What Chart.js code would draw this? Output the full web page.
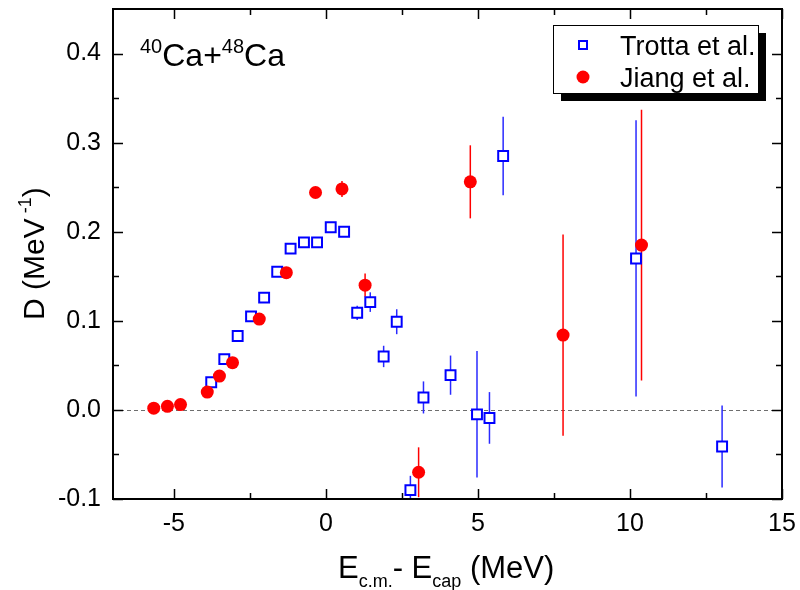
<!DOCTYPE html>
<html>
<head>
<meta charset="utf-8">
<script src="https://cdn.jsdelivr.net/npm/chart.js@4.4.1/dist/chart.umd.min.js"></script>
<style>
    body { margin: 0; background: #fff; }
    #wrap { width: 800px; height: 590px; position: relative; }
</style>
</head>
<body>
<div id="wrap"><canvas id="chart"></canvas></div>
<script>
    //------------------------------------------Datos------------------------------------------------------------------

    // Trotta et al. (cuadrados azules)
    const trottaX = [-3.77, -3.34, -2.90, -2.46, -2.03, -1.60, -1.16, -0.72, -0.29, 0.16, 0.60, 1.03,
        1.46, 1.90, 2.33, 2.78, 3.21, 4.10, 4.97, 5.38, 5.83, 10.20, 13.03];
    const trottaY = [0.031, 0.057, 0.083, 0.105, 0.126, 0.155, 0.181, 0.188, 0.188, 0.205, 0.200, 0.109,
        0.121, 0.060, 0.099, -0.090, 0.014, 0.039, -0.005, -0.009, 0.285, 0.170, -0.041];
    const trottaErr = [0.004, 0.004, 0.005, 0.005, 0.005, 0.005, 0.006, 0.006, 0.006, 0.005, 0.005, 0.008,
        0.011, 0.012, 0.014, 0.016, 0.018, 0.022, 0.071, 0.029, 0.044, 0.155, 0.046];

    // Jiang et al. (circulos rojos)
    const jiangX = [-5.66, -5.21, -4.78, -3.90, -3.50, -3.07, -2.19, -1.30, -0.34, 0.53, 1.29, 3.05, 4.75, 7.80, 10.38];
    const jiangY = [0.002, 0.004, 0.006, 0.020, 0.038, 0.053, 0.102, 0.154, 0.244, 0.248, 0.140, -0.070, 0.256, 0.084, 0.185];
    const jiangErr = [0, 0, 0, 0, 0, 0, 0, 0, 0, 0.009, 0.013, 0.028, 0.041, 0.113, 0.152];

    const xMin = -7, xMax = 15, xStep = 5;
    const yMin = -0.1, yMax = 0.45, yStep = 0.1;

    const seriesNames = ["Trotta et al.", "Jiang et al."];

    const FONT = "'Liberation Sans', Arial, sans-serif";

    //------------------------------------------Funciones------------------------------------------------------------------

    function toPoints(xs, ys) {
        return xs.map(function (x, i) { return { x: x, y: ys[i] }; });
    }

    // escribe un texto con partes sub/superindice, devuelve la x final
    function richText(ctx, parts, x, y) {
        parts.forEach(function (p) {
            ctx.font = p.s + "px " + FONT;
            ctx.fillText(p.t, x, y + p.dy);
            x += ctx.measureText(p.t).width;
        });
        return x;
    }

    // barras de error verticales + linea discontinua en y = 0
    const errorBars = {
        id: "errorBars",
        beforeDatasetsDraw(chart) {
            const ctx = chart.ctx;
            const area = chart.chartArea;
            const xs = chart.scales.x, ys = chart.scales.y;
            ctx.save();
            ctx.beginPath();
            ctx.rect(area.left, area.top, area.right - area.left, area.bottom - area.top);
            ctx.clip();

            // linea en cero
            const y0 = Math.round(ys.getPixelForValue(0)) + 0.5;
            ctx.strokeStyle = "#6e6e6e";
            ctx.lineWidth = 1;
            ctx.setLineDash([4, 3]);
            ctx.beginPath();
            ctx.moveTo(area.left, y0);
            ctx.lineTo(area.right, y0);
            ctx.stroke();
            ctx.setLineDash([]);

            chart.data.datasets.forEach(function (ds) {
                ctx.strokeStyle = ds.barColor;
                ctx.lineWidth = 1.5;
                ds.data.forEach(function (p, i) {
                    const e = ds.errors[i];
                    if (!e) return;
                    const px = xs.getPixelForValue(p.x);
                    ctx.beginPath();
                    ctx.moveTo(px, ys.getPixelForValue(p.y + e));
                    ctx.lineTo(px, ys.getPixelForValue(p.y - e));
                    ctx.stroke();
                });
            });
            ctx.restore();
        }
    };

    // marco con marcas hacia dentro
    const frame = {
        id: "frame",
        afterDatasetsDraw(chart) {
            const ctx = chart.ctx;
            const a = chart.chartArea;
            const xs = chart.scales.x, ys = chart.scales.y;
            ctx.save();
            ctx.strokeStyle = "#000";
            ctx.lineWidth = 2;
            ctx.strokeRect(a.left, a.top, a.right - a.left, a.bottom - a.top);

            ctx.lineWidth = 1.5;
            ctx.beginPath();
            for (let k = -2; k <= 6; k++) {
                const v = k * 2.5;
                const px = Math.round(xs.getPixelForValue(v)) + 0.5;
                const len = (k % 2 === 0) ? 10 : 6;
                ctx.moveTo(px, a.bottom); ctx.lineTo(px, a.bottom - len);
                ctx.moveTo(px, a.top); ctx.lineTo(px, a.top + len);
            }
            for (let k = -2; k <= 8; k++) {
                const v = k * 0.05;
                const py = Math.round(ys.getPixelForValue(v)) + 0.5;
                const len = (k % 2 === 0) ? 10 : 6;
                ctx.moveTo(a.left, py); ctx.lineTo(a.left + len, py);
                ctx.moveTo(a.right, py); ctx.lineTo(a.right - len, py);
            }
            ctx.stroke();
            ctx.restore();
        }
    };

    // titulos de ejes, etiqueta y leyenda
    const labels = {
        id: "labels",
        afterDraw(chart) {
            const ctx = chart.ctx;
            ctx.save();
            ctx.fillStyle = "#000";
            ctx.textBaseline = "alphabetic";

            // titulo eje x
            richText(ctx, [
                { t: "E", s: 31, dy: 0 },
                { t: "c.m.", s: 18, dy: 9 },
                { t: "- E", s: 31, dy: 0 },
                { t: "cap", s: 18, dy: 9 },
                { t: " (MeV)", s: 31, dy: 0 }
            ], 338, 578);

            // titulo eje y
            ctx.save();
            ctx.translate(44, 320);
            ctx.rotate(-Math.PI / 2);
            richText(ctx, [
                { t: "D (MeV", s: 30, dy: 0 },
                { t: " -1", s: 18, dy: -13 },
                { t: ")", s: 30, dy: 0 }
            ], 0, 0);
            ctx.restore();

            // reaccion
            richText(ctx, [
                { t: "40", s: 20, dy: -13 },
                { t: "Ca+", s: 32, dy: 0 },
                { t: "48", s: 20, dy: -13 },
                { t: "Ca", s: 32, dy: 0 }
            ], 140, 66);

            // leyenda con sombra
            const lx = 553, ly = 25, lw = 205, lh = 68;
            ctx.fillStyle = "#000";
            ctx.fillRect(lx + 8, ly + 8, lw, lh);
            ctx.fillStyle = "#fff";
            ctx.fillRect(lx, ly, lw, lh);
            ctx.strokeStyle = "#000";
            ctx.lineWidth = 1;
            ctx.strokeRect(lx + 0.5, ly + 0.5, lw, lh);

            ctx.strokeStyle = "#0000ff";
            ctx.lineWidth = 2;
            ctx.strokeRect(579, 41, 8, 8);
            ctx.fillStyle = "#ff0000";
            ctx.beginPath();
            ctx.arc(583, 77, 6.5, 0, Math.PI * 2);
            ctx.fill();

            ctx.fillStyle = "#000";
            ctx.font = "27px " + FONT;
            ctx.fillText(seriesNames[0], 620, 55);
            ctx.fillText(seriesNames[1], 620, 87);
            ctx.restore();
        }
    };

    const ctx = document.getElementById("chart").getContext("2d");

    const myChart = new Chart(ctx, {
        type: "scatter",
        data: {
            datasets: [
                {
                    label: seriesNames[0],
                    data: toPoints(trottaX, trottaY),
                    errors: trottaErr,
                    barColor: "#2a2aff",
                    pointStyle: "rect",
                    pointRadius: 7,
                    pointBorderWidth: 2,
                    borderColor: "#0000ff",
                    backgroundColor: "#ffffff",
                    order: 1
                },
                {
                    label: seriesNames[1],
                    data: toPoints(jiangX, jiangY),
                    errors: jiangErr,
                    barColor: "#ff0000",
                    pointStyle: "circle",
                    pointRadius: 6.5,
                    pointBorderWidth: 0,
                    borderColor: "#ff0000",
                    backgroundColor: "#ff0000",
                    order: 0
                }
            ]
        },
        options: {
            responsive: true,
            maintainAspectRatio: false,
            animation: false,
            layout: { padding: { top: 9, right: 18, left: 0, bottom: 0 } },
            plugins: {
                legend: { display: false },
                tooltip: { enabled: false }
            },
            scales: {
                x: {
                    type: "linear",
                    min: xMin,
                    max: xMax,
                    grid: { display: false, drawTicks: false },
                    border: { display: false },
                    ticks: {
                        stepSize: xStep,
                        includeBounds: false,
                        color: "#000",
                        padding: 10,
                        maxRotation: 0,
                        font: { family: FONT, size: 25 }
                    },
                    afterFit: function (scale) {
                        scale.height = 91;
                        scale.paddingLeft = 0;
                        scale.paddingRight = 0;
                    }
                },
                y: {
                    type: "linear",
                    min: yMin,
                    max: yMax,
                    grid: { display: false, drawTicks: false },
                    border: { display: false },
                    ticks: {
                        stepSize: yStep,
                        includeBounds: false,
                        color: "#000",
                        padding: 12,
                        font: { family: FONT, size: 25 },
                        callback: function (v) { return v.toFixed(1); }
                    },
                    afterFit: function (scale) {
                        scale.width = 113;
                        scale.paddingTop = 0;
                        scale.paddingBottom = 0;
                    }
                }
            }
        },
        plugins: [errorBars, frame, labels]
    });
</script>
</body>
</html>
